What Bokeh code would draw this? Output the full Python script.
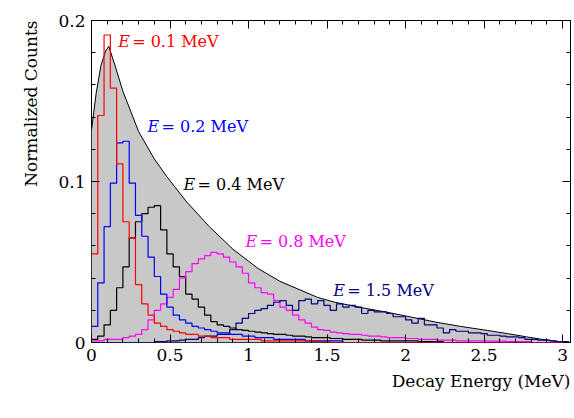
import numpy as np
from bokeh.plotting import figure
from bokeh.models import LinearAxis, FixedTicker, Label, Range1d, Title
from bokeh.embed import file_html
from bokeh.resources import INLINE

# histogram bins, 0.04 MeV wide
bin_w = 0.04
n_bins = 76

red = [0.055, 0.141, 0.191, 0.158, 0.111, 0.075, 0.065, 0.036, 0.024, 0.017,
       0.012, 0.010, 0.008, 0.007, 0.006, 0.005, 0.005, 0.004, 0.004, 0.003,
       0.003, 0.003, 0.002, 0.002, 0.002, 0.002, 0.002, 0.001, 0.001, 0.001,
       0.001, 0.001, 0.001, 0.001, 0.001, 0.0005, 0.0005, 0.0005]
blue = [0.010, 0.037, 0.072, 0.099, 0.124, 0.125, 0.099, 0.079, 0.066, 0.053,
        0.041, 0.030, 0.022, 0.017, 0.014, 0.012, 0.010, 0.009, 0.008, 0.007,
        0.006, 0.006, 0.005, 0.005, 0.004, 0.004, 0.003, 0.003, 0.003, 0.002,
        0.002, 0.002, 0.002, 0.002, 0.001, 0.001, 0.001, 0.001, 0.001, 0.001]
black = [0.002, 0.004, 0.011, 0.020, 0.034, 0.047, 0.065, 0.075, 0.080, 0.084,
         0.085, 0.070, 0.055, 0.047, 0.041, 0.030, 0.027, 0.022, 0.017, 0.013,
         0.011, 0.010, 0.009, 0.008, 0.0075, 0.007, 0.0065, 0.006, 0.0055, 0.005,
         0.005, 0.0045, 0.004, 0.004, 0.0035, 0.003, 0.003, 0.003, 0.0025, 0.0025,
         0.002, 0.002, 0.002, 0.0015, 0.0015, 0.0015, 0.001, 0.001, 0.001, 0.001,
         0.001, 0.001, 0.0005, 0.0005, 0.0005, 0.0005]
magenta = [0.001, 0.001, 0.002, 0.002, 0.002, 0.003, 0.004, 0.005, 0.008, 0.014,
           0.020, 0.024, 0.028, 0.033, 0.040, 0.044, 0.049, 0.052, 0.054, 0.056,
           0.055, 0.053, 0.050, 0.047, 0.043, 0.037, 0.034, 0.031, 0.030, 0.026,
           0.022, 0.020, 0.017, 0.014, 0.012, 0.0095, 0.008, 0.0075, 0.0065, 0.006,
           0.0055, 0.005, 0.005, 0.0045, 0.004, 0.004, 0.0035, 0.003, 0.003, 0.003,
           0.0025, 0.0025, 0.002, 0.002, 0.002, 0.0015, 0.0015, 0.0015, 0.001, 0.001,
           0.001, 0.001, 0.001, 0.0008, 0.0008, 0.0008, 0.0005, 0.0005, 0.0005, 0.0005]
navy = [0.0, 0.0, 0.0, 0.0, 0.0, 0.0, 0.0, 0.0, 0.0, 0.0,
        0.0005, 0.0005, 0.001, 0.001, 0.0015, 0.002, 0.002, 0.003, 0.004, 0.004,
        0.005, 0.005, 0.008, 0.012, 0.015, 0.018, 0.020, 0.021, 0.023, 0.025,
        0.026, 0.023, 0.020, 0.026, 0.027, 0.024, 0.026, 0.023, 0.020, 0.024,
        0.022, 0.023, 0.022, 0.018, 0.020, 0.019, 0.019, 0.018, 0.016, 0.016,
        0.014, 0.012, 0.015, 0.011, 0.011, 0.009, 0.006, 0.008, 0.007, 0.007,
        0.006, 0.006, 0.0055, 0.0045, 0.0045, 0.004, 0.0035, 0.0035, 0.003, 0.002,
        0.002, 0.0015, 0.0015, 0.001, 0.0005, 0.0005]

# upper envelope (gray area)
env_x = [0.0, 0.03, 0.06, 0.09, 0.11, 0.15, 0.2, 0.3, 0.4, 0.48, 0.6, 0.75, 0.9,
         1.06, 1.2, 1.44, 1.55, 1.7, 1.87, 2.0, 2.2, 2.35, 2.52, 2.65, 2.77, 2.93, 3.05]
env_y = [0.132, 0.155, 0.172, 0.181, 0.184, 0.172, 0.156, 0.131, 0.114, 0.103, 0.088,
         0.072, 0.058, 0.046, 0.038, 0.028, 0.025, 0.022, 0.019, 0.0165, 0.0125,
         0.010, 0.0075, 0.0055, 0.0035, 0.001, 0.0]

labels = ["0.1", "0.2", "0.4", "0.8", "1.5"]
label_x = [0.17, 0.357, 0.586, 0.98, 1.54]
label_y = [0.187, 0.134, 0.098, 0.063, 0.0325]
colors = ["#ff0000", "#0000ff", "#000000", "#ff00ff", "#00007f"]

x_ticks = [0, 0.5, 1, 1.5, 2, 2.5, 3]
x_tick_labels = ["0", "0.5", "1", "1.5", "2", "2.5", "3"]
y_ticks = [0, 0.1, 0.2]
y_tick_labels = ["0", "0.1", "0.2"]
x_minor = [round(0.1 * i, 2) for i in range(31)]
y_minor = [round(0.02 * i, 2) for i in range(11)]

FONT = "DejaVu Serif"

p = figure(width=572, height=412, output_backend="svg", toolbar_location=None,
           x_range=Range1d(0, 3.05), y_range=Range1d(0, 0.2),
           min_border_left=91, min_border_right=2, min_border_top=20, min_border_bottom=70)
p.grid.visible = False
p.outline_line_color = "black"
p.outline_line_width = 1

p.varea(x=env_x, y1=[0] * len(env_x), y2=env_y, fill_color="#c8c8c8")
p.line(env_x, env_y, line_color="black", line_width=1)

edges = np.arange(n_bins + 1) * bin_w
for vals, c in [(black, colors[2]), (magenta, colors[3]), (navy, colors[4]),
                (blue, colors[1]), (red, colors[0])]:
    v = list(vals) + [0.0] * (n_bins - len(vals))
    p.step(edges, v + [v[-1]], mode="after", line_color=c, line_width=1.2)

for t, lx, ly, c in zip(labels, label_x, label_y, colors):
    p.add_layout(Label(x=lx, y=ly, text="E", text_font=FONT, text_font_style="italic",
                       text_font_size="16px", text_color=c, text_baseline="middle"))
    p.add_layout(Label(x=lx, y=ly, x_offset=14, text="= " + t + " MeV", text_font=FONT,
                       text_font_size="16px", text_color=c, text_baseline="middle"))

def style(ax):
    ax.major_tick_in = 8
    ax.major_tick_out = 0
    ax.minor_tick_in = 4
    ax.minor_tick_out = 0
    ax.axis_line_color = None
    ax.major_tick_line_color = "black"
    ax.minor_tick_line_color = "black"
    ax.major_label_text_font = FONT
    ax.major_label_text_color = "black"
    ax.major_label_text_font_size = "17px"
    ax.major_label_standoff = 6

p.xaxis.ticker = FixedTicker(ticks=x_ticks, minor_ticks=x_minor)
p.xaxis.major_label_overrides = dict(zip(x_ticks, x_tick_labels))
p.yaxis.ticker = FixedTicker(ticks=y_ticks, minor_ticks=y_minor)
p.yaxis.major_label_overrides = dict(zip(y_ticks, y_tick_labels))
style(p.xaxis[0])
style(p.yaxis[0])

top = LinearAxis(ticker=FixedTicker(ticks=x_ticks, minor_ticks=x_minor),
                 major_label_overrides={t: "" for t in x_ticks})
right = LinearAxis(ticker=FixedTicker(ticks=y_ticks, minor_ticks=y_minor),
                   major_label_overrides={t: "" for t in y_ticks})
style(top)
style(right)
top.major_label_standoff = 0
right.major_label_standoff = 0
p.add_layout(top, "above")
p.add_layout(right, "right")

p.add_layout(Title(text="Decay Energy (MeV)", align="right", text_font=FONT,
                   text_font_size="17px", text_font_style="normal", text_color="black"), "below")
p.add_layout(Title(text="Normalized Counts", align="right", text_font=FONT, standoff=30,
                   text_font_size="17px", text_font_style="normal", text_color="black"), "left")

open("out.html", "w").write(file_html(p, INLINE))
